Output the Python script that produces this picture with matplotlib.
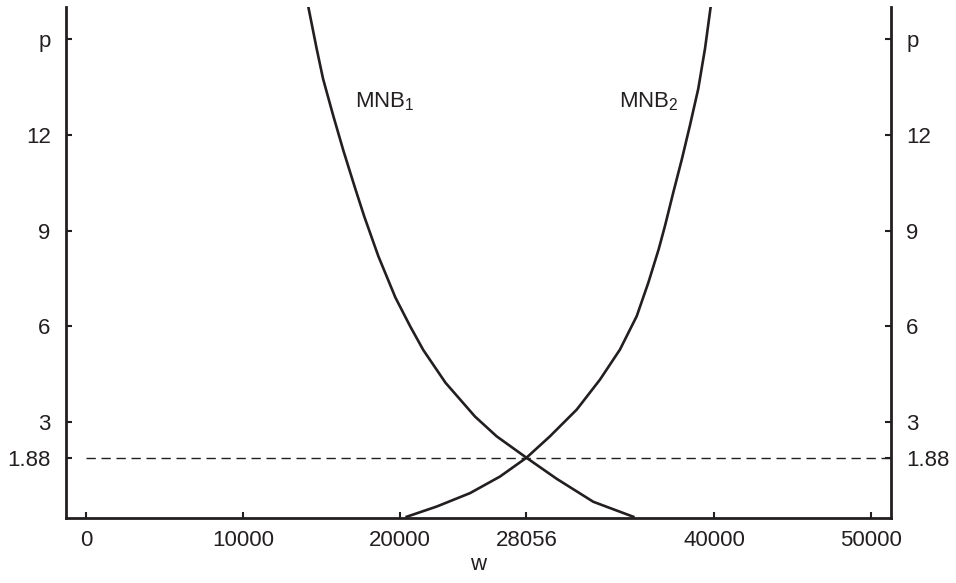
import matplotlib
matplotlib.use("Agg")
import matplotlib.pyplot as plt

plt.rcParams["font.family"] = ["Liberation Sans", "DejaVu Sans"]
plt.rcParams["mathtext.fontset"] = "custom"
plt.rcParams["mathtext.rm"] = "Liberation Sans"

INK = "#231f20"

# MNB curves (w, p)
mnb1_w = [14160, 14690, 15100, 15750, 16400, 17130, 17720, 18620, 19710, 20650,
          21480, 22900, 24780, 26160, 28056, 29980, 32310, 34860]
mnb1_p = [16.02, 14.71, 13.76, 12.60, 11.50, 10.35, 9.45, 8.20, 6.90, 6.00,
          5.26, 4.23, 3.17, 2.55, 1.88, 1.22, 0.50, 0.03]

mnb2_w = [20430, 22340, 24460, 26370, 28056, 29550, 31260, 32740, 34010, 35080,
          35820, 36480, 36880, 37410, 37960, 38470, 39000, 39430, 39790]
mnb2_p = [0.03, 0.35, 0.77, 1.29, 1.88, 2.55, 3.39, 4.33, 5.27, 6.32,
          7.37, 8.42, 9.15, 10.20, 11.25, 12.30, 13.45, 14.71, 16.02]

# equilibrium
w_eq = 28056
p_eq = 1.88

x_ticks = [0, 10000, 20000, w_eq, 40000, 50000]
y_ticks = [p_eq, 3, 6, 9, 12, 15]
y_ticklabels = ["1.88", "3", "6", "9", "12", "p"]

XMIN, XMAX = -1274, 51274
YMIN, YMAX = 0, 16

fig = plt.figure(figsize=(9.56, 5.83), dpi=100)
ax = fig.add_axes([0.069, 0.112, 0.863, 0.8755])

ax.plot(mnb1_w, mnb1_p, color=INK, lw=1.9, solid_joinstyle="round")
ax.plot(mnb2_w, mnb2_p, color=INK, lw=1.9, solid_joinstyle="round")
ax.hlines(p_eq, 0, XMAX, colors=INK, lw=1.0, linestyles=(0, (6.7, 4.1)))

ax.text(17130, 13.05, r"MNB$_\mathrm{1}$", fontsize=16, color=INK, ha="left", va="center")
ax.text(33950, 13.05, r"MNB$_\mathrm{2}$", fontsize=16, color=INK, ha="left", va="center")

ax.set_xlim(XMIN, XMAX)
ax.set_ylim(YMIN, YMAX)
ax.set_xticks(x_ticks)
ax.set_xticklabels([str(v) for v in x_ticks])
ax.set_yticks(y_ticks)
ax.set_yticklabels(y_ticklabels)

ax.spines["top"].set_visible(False)
for side in ["left", "right", "bottom"]:
    ax.spines[side].set_linewidth(2.0)
    ax.spines[side].set_color(INK)

ax.tick_params(axis="x", direction="in", length=4, width=1.5, pad=9, labelsize=16, colors=INK)
ax.tick_params(axis="y", direction="in", length=4, width=1.5, pad=11, labelsize=16, colors=INK,
               right=True, labelright=True)

ax.set_xlabel("w", fontsize=16, color=INK, labelpad=2)

fig.savefig("out.png", dpi=100)
